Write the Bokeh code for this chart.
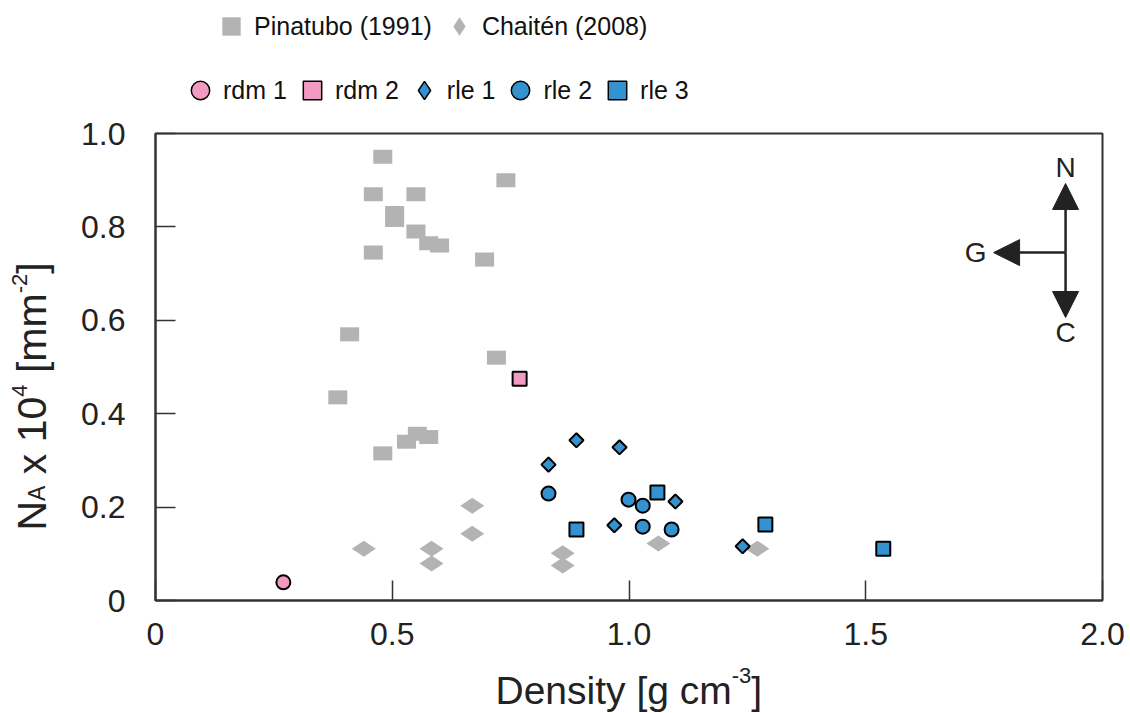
import math
from bokeh.plotting import figure
from bokeh.layouts import column, row
from bokeh.models import (Range1d, FixedTicker, Legend, LegendItem, Label, Arrow, NormalHead)
from bokeh.embed import file_html
from bokeh.resources import INLINE

# ---------------- data ----------------
pinatubo_x = [0.48, 0.74, 0.46, 0.55, 0.505, 0.505, 0.55, 0.577, 0.60, 0.46, 0.695, 0.41, 0.72, 0.385, 0.48, 0.53, 0.553, 0.577]
pinatubo_y = [0.95, 0.90, 0.87, 0.87, 0.83, 0.815, 0.79, 0.765, 0.76, 0.745, 0.73, 0.57, 0.52, 0.435, 0.315, 0.34, 0.357, 0.35]

chaiten_x = [0.44, 0.583, 0.583, 0.669, 0.669, 0.86, 0.86, 1.062, 1.271]
chaiten_y = [0.111, 0.111, 0.079, 0.203, 0.143, 0.101, 0.075, 0.122, 0.111]

rdm1_x = [0.27]
rdm1_y = [0.039]
rdm2_x = [0.769]
rdm2_y = [0.475]

rle1_x = [0.83, 0.889, 0.98, 1.098, 0.969, 1.24]
rle1_y = [0.291, 0.343, 0.328, 0.212, 0.161, 0.116]
rle2_x = [0.83, 0.999, 1.029, 1.029, 1.09]
rle2_y = [0.229, 0.216, 0.203, 0.158, 0.152]
rle3_x = [1.06, 0.889, 1.288, 1.537]
rle3_y = [0.231, 0.152, 0.163, 0.111]

x_ticks = [0, 0.5, 1.0, 1.5, 2.0]
y_ticks = [0, 0.2, 0.4, 0.6, 0.8, 1.0]

legend_row1 = ["Pinatubo (1991)", "Chaitén (2008)"]
legend_row2 = ["rdm 1", "rdm 2", "rle 1", "rle 2", "rle 3"]

# compass (data coordinates)
compass_x = 1.922
compass_y = 0.745
compass_n_tip = 0.893
compass_c_tip = 0.606
compass_g_tip = 1.770
compass_labels = [("N", 1.922, 0.927), ("G", 1.732, 0.745), ("C", 1.922, 0.574)]

GRAY = "#b3b3b3"
PINK = "#f29ac2"
BLUE = "#3592d0"
DARK = "#222222"
FONT = "Liberation Sans"
NB = "\u00a0"

W, H = 1130, 713
TOP_H = 110          # legend strip
YLAB_W = 60          # y-title strip
XLAB_H = 55          # x-title strip
MAIN_W = W - YLAB_W
MAIN_H = H - TOP_H - XLAB_H
FRAME_TOP = 133
FRAME_H = 467


def strip(w, h):
    f = figure(width=w, height=h, x_range=Range1d(0, w), y_range=Range1d(0, h),
               x_axis_type=None, y_axis_type=None, output_backend="svg", toolbar_location=None,
               min_border=0)
    f.grid.visible = False
    f.outline_line_color = None
    return f


# ---------------- main plot ----------------
p = figure(width=MAIN_W, height=MAIN_H, x_range=Range1d(0, 2), y_range=Range1d(0, 1),
           output_backend="svg", toolbar_location=None,
           min_border_left=95, min_border_right=28, min_border_top=FRAME_TOP - TOP_H,
           min_border_bottom=MAIN_H - (FRAME_TOP - TOP_H) - FRAME_H)
p.grid.visible = False
p.outline_line_color = "#333333"
p.outline_line_width = 2

p.xaxis.ticker = FixedTicker(ticks=x_ticks)
p.yaxis.ticker = FixedTicker(ticks=y_ticks)
p.xaxis.major_label_overrides = {0: "0", 0.5: "0.5", 1: "1.0", 1.5: "1.5", 2: "2.0"}
p.yaxis.major_label_overrides = {0: "0", 0.2: "0.2", 0.4: "0.4", 0.6: "0.6", 0.8: "0.8", 1: "1.0"}
for ax in (p.xaxis[0], p.yaxis[0]):
    ax.major_tick_in = 20
    ax.major_tick_out = 0
    ax.minor_tick_in = 0
    ax.minor_tick_out = 0
    ax.axis_line_color = "#333333"
    ax.axis_line_width = 2
    ax.major_tick_line_color = "#333333"
    ax.major_tick_line_width = 1.5
    ax.major_label_text_font = FONT
    ax.major_label_text_font_size = "32px"
    ax.major_label_text_color = DARK
p.xaxis.major_label_standoff = 22
p.yaxis.major_label_standoff = 30

p.rect(pinatubo_x, pinatubo_y, width=19, height=14, width_units="screen", height_units="screen",
       fill_color=GRAY, line_color=None)
p.scatter(chaiten_x, chaiten_y, marker="diamond", angle=math.pi / 2, size=24,
          fill_color=GRAY, line_color=None)

mk = dict(line_color="black", line_width=2)
p.scatter(rdm1_x, rdm1_y, marker="circle", size=14, fill_color=PINK, **mk)
p.scatter(rdm2_x, rdm2_y, marker="square", size=14, fill_color=PINK, **mk)
p.scatter(rle1_x, rle1_y, marker="square", angle=math.pi / 4, size=10, fill_color=BLUE, **mk)
p.scatter(rle2_x, rle2_y, marker="circle", size=14, fill_color=BLUE, **mk)
p.scatter(rle3_x, rle3_y, marker="square", size=14, fill_color=BLUE, **mk)

for xe, ye in [(compass_x, compass_n_tip), (compass_x, compass_c_tip), (compass_g_tip, compass_y)]:
    p.add_layout(Arrow(x_start=compass_x, y_start=compass_y, x_end=xe, y_end=ye,
                       end=NormalHead(size=26, fill_color=DARK, line_color=DARK, line_width=1),
                       line_color=DARK, line_width=2.5))
for txt, lx, ly in compass_labels:
    p.add_layout(Label(x=lx, y=ly, text=txt, text_align="center", text_baseline="middle",
                       text_font=FONT, text_font_size="28px", text_color=DARK))

# ---------------- legend strip ----------------
top = strip(W, TOP_H)
off = dict(x=[-1000], y=[-1000])   # legend-only renderers, outside the visible range
lg = {}
lg["pin"] = top.scatter(marker="square", fill_color=GRAY, line_color=None, **off)
lg["cha"] = top.scatter(marker="diamond", fill_color=GRAY, line_color=None, **off)
lg["rdm1"] = top.scatter(marker="circle", fill_color=PINK, line_color="black", line_width=1.5, **off)
lg["rdm2"] = top.scatter(marker="square", fill_color=PINK, line_color="black", line_width=1.5, **off)
lg["rle1"] = top.scatter(marker="diamond", fill_color=BLUE, line_color="black", line_width=1.5, **off)
lg["rle2"] = top.scatter(marker="circle", fill_color=BLUE, line_color="black", line_width=1.5, **off)
lg["rle3"] = top.scatter(marker="square", fill_color=BLUE, line_color="black", line_width=1.5, **off)

GL = 46
common = dict(orientation="horizontal", glyph_width=GL, glyph_height=GL, label_standoff=0,
              padding=0, margin=0, border_line_color=None, background_fill_alpha=0,
              label_text_font=FONT, label_text_font_size="25px", label_text_color="#111111")
leg1 = Legend(items=[LegendItem(label=legend_row1[0], renderers=[lg["pin"]]),
                     LegendItem(label=legend_row1[1], renderers=[lg["cha"]])],
              location=(208, TOP_H - (26 + GL / 2)), spacing=4, **common)
leg2 = Legend(items=[LegendItem(label=lab, renderers=[lg[k]])
                     for lab, k in zip(legend_row2, ["rdm1", "rdm2", "rle1", "rle2", "rle3"])],
              location=(177, TOP_H - (90 + GL / 2)), spacing=2, **common)
top.add_layout(leg1)
top.add_layout(leg2)

# ---------------- axis titles with sub/superscripts ----------------
ADV = {'N': .722, 'A': .667, ' ': .278, NB: .278, 'x': .5, '1': .556, '0': .556, '4': .556, '[': .278,
       'm': .833, '-': .333, '2': .556, ']': .278, 'D': .722, 'e': .556, 'n': .556, 's': .5,
       'i': .222, 't': .278, 'y': .5, 'g': .556, 'c': .5, '3': .556}


def tw(s, size):
    return sum(ADV.get(ch, .556) for ch in s) * size


ylab = strip(YLAB_W, MAIN_H)
y_pieces = [("N", 41, 0), ("A", 23, 5), (NB + "x" + NB + "10", 41, 0), ("4", 22, -12),
            (NB + "[mm", 41, 0), ("-2", 22, -12), ("]", 41, 0)]
y_start, y_base = 588, 31      # page pixels (empirically corrected)
pos = y_start
for txt, fs, sh in y_pieces:
    ylab.add_layout(Label(x=y_base + sh, y=(TOP_H + MAIN_H) - pos, x_units="screen", y_units="screen",
                          text=txt, angle=math.pi / 2, text_align="left", text_baseline="alphabetic",
                          text_font=FONT, text_font_size=f"{fs}px", text_color=DARK))
    pos -= tw(txt, fs)

xlab = strip(W, XLAB_H)
x_pieces = [("Density [g cm", 39, 0), ("-3", 22, -15), ("]", 39, 0)]
x_start, x_base = 495, 690     # page pixels (empirically corrected)
pos = x_start
for txt, fs, sh in x_pieces:
    xlab.add_layout(Label(x=pos, y=H - (x_base + sh), x_units="screen", y_units="screen",
                          text=txt, text_align="left", text_baseline="alphabetic",
                          text_font=FONT, text_font_size=f"{fs}px", text_color=DARK))
    pos += tw(txt, fs)

layout = column(top, row(ylab, p, spacing=0), xlab, spacing=0)
open("out.html", "w").write(file_html(layout, INLINE))
